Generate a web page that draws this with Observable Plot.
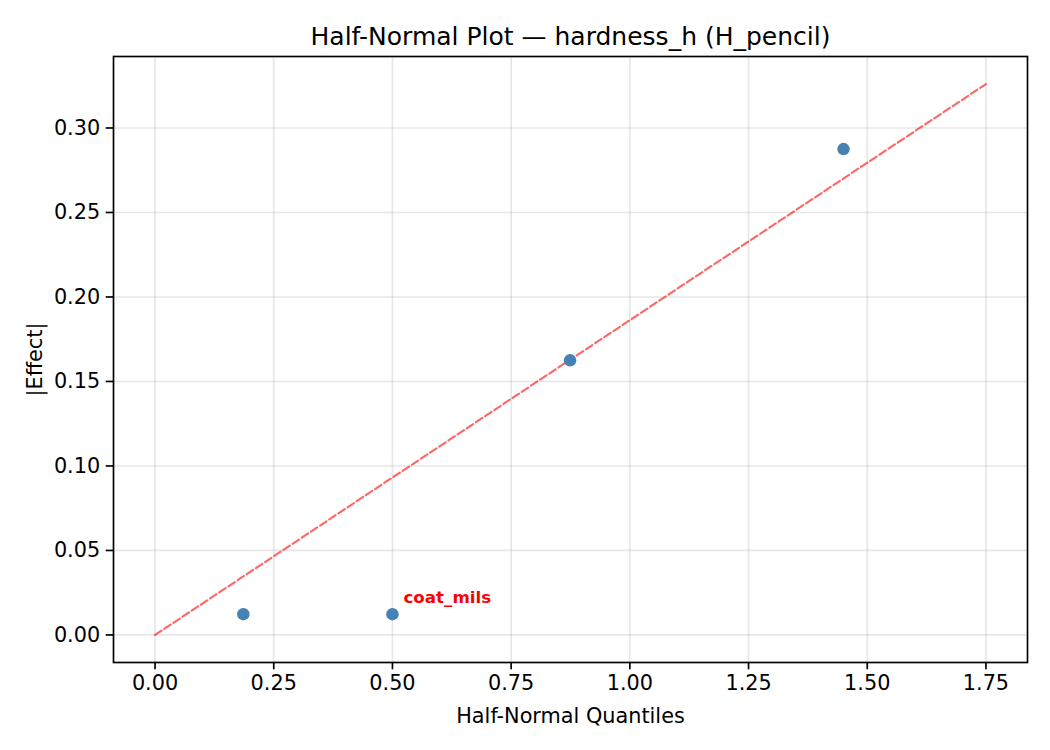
<!DOCTYPE html>
<html>
<head>
<meta charset="utf-8">
<script src="https://cdn.jsdelivr.net/npm/d3@7"></script>
<script src="https://cdn.jsdelivr.net/npm/@observablehq/plot@0.6"></script>
<style>
  html, body { margin: 0; padding: 0; background: white; }
</style>
</head>
<body>
<div id="chart"></div>
<script>
// Data
const quantiles = [0.186, 0.500, 0.874, 1.450];
const effects = [0.0123, 0.0123, 0.1625, 0.2875];
const refX = [0, 1.75];
const refY = [0, 0.326];
const annotX = [0.500];
const annotY = [0.0123];
const annotText = ["coat_mils"];
const xTicks = [0, 0.25, 0.5, 0.75, 1.0, 1.25, 1.5, 1.75];
const yTicks = [0, 0.05, 0.10, 0.15, 0.20, 0.25, 0.30];
const titleText = "Half-Normal Plot — hardness_h (H_pencil)";
const xLabel = "Half-Normal Quantiles";
const yLabel = "|Effect|";

const points = quantiles.map((q, i) => ({q, e: effects[i]}));
const refLine = refX.map((x, i) => ({x, y: refY[i]}));
const annots = annotX.map((x, i) => ({x, y: annotY[i], t: annotText[i]}));

const FONT = "DejaVu Sans, Liberation Sans, sans-serif";

const chart = Plot.plot({
  width: 1050,
  height: 750,
  marginLeft: 113,
  marginRight: 23,
  marginTop: 56,
  marginBottom: 88,
  style: {fontFamily: FONT, fontSize: "20.8px", background: "white", color: "black"},
  x: {domain: [-0.0875, 1.8375], axis: null},
  y: {domain: [-0.0163, 0.3423], axis: null},
  marks: [
    Plot.gridX(xTicks, {stroke: "#b0b0b0", strokeOpacity: 0.3, strokeWidth: 1.67}),
    Plot.gridY(yTicks, {stroke: "#b0b0b0", strokeOpacity: 0.3, strokeWidth: 1.67}),
    Plot.line(refLine, {x: "x", y: "y", stroke: "#ff0000", strokeOpacity: 0.6, strokeWidth: 2.1, strokeDasharray: "7.7,3.3"}),
    Plot.dot(points, {x: "q", y: "e", r: 6.25, fill: "#4682b4", stroke: "none"}),
    Plot.text(annots, {x: "x", y: "y", text: "t", dx: 11, dy: -17, textAnchor: "start", lineAnchor: "middle", fill: "red", fontWeight: "bold", fontSize: 16.7, fontFamily: FONT}),
    Plot.frame({stroke: "black", strokeWidth: 1.67}),
    Plot.axisX(xTicks, {anchor: "bottom", tickSize: 7.3, tickPadding: 5, tickFormat: d => d.toFixed(2), stroke: "black", strokeWidth: 1.67, fill: "black", fontSize: 20.8, fontFamily: FONT, label: null}),
    Plot.axisY(yTicks, {anchor: "left", tickSize: 7.3, tickPadding: 6, tickFormat: d => d.toFixed(2), stroke: "black", strokeWidth: 1.67, fill: "black", fontSize: 20.8, fontFamily: FONT, label: null}),
    Plot.text([titleText], {frameAnchor: "top", dy: -20, textAnchor: "middle", lineAnchor: "middle", fontSize: 25, fill: "black", fontFamily: FONT}),
    Plot.text([xLabel], {frameAnchor: "bottom", dy: 54, textAnchor: "middle", lineAnchor: "middle", fontSize: 20.8, fill: "black", fontFamily: FONT}),
    Plot.text([yLabel], {frameAnchor: "left", dx: -78, rotate: -90, textAnchor: "middle", lineAnchor: "middle", fontSize: 20.8, fill: "black", fontFamily: FONT})
  ]
});
document.getElementById("chart").appendChild(chart);
</script>
</body>
</html>
